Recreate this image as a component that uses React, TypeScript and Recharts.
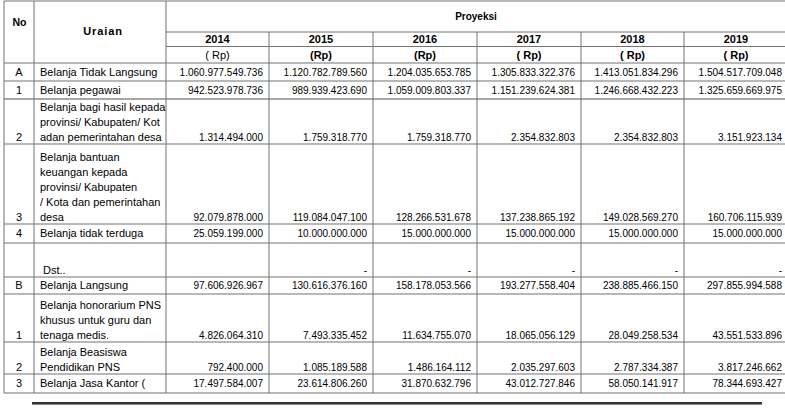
import React from 'react';
import { Surface, Layer, Text, Rectangle } from 'recharts';

const years = ['2014', '2015', '2016', '2017', '2018', '2019'];
const unitLabels = ['( Rp)', '(Rp)', '(Rp)', '( Rp)', '( Rp)', '( Rp)'];
const unitBold = [false, true, true, true, true, true];

const rowNos = ['A', '1', '2', '3', '4', '', 'B', '1', '2', '3'];
const rowLabels: string[][] = [
  ['Belanja Tidak Langsung'],
  ['Belanja pegawai'],
  ['Belanja bagi hasil kepada', 'provinsi/ Kabupaten/ Kot', 'adan pemerintahan desa'],
  ['Belanja bantuan', 'keuangan kepada', 'provinsi/ Kabupaten', '/ Kota dan pemerintahan', 'desa'],
  ['Belanja tidak terduga'],
  ['Dst..'],
  ['Belanja Langsung'],
  ['Belanja honorarium PNS', 'khusus untuk guru dan', 'tenaga medis.'],
  ['Belanja Beasiswa', 'Pendidikan PNS'],
  ['Belanja Jasa Kantor ('],
];

// null = empty cell, 0 = "-"
const v2014 = [1060977549736, 942523978736, 1314494000, 92079878000, 25059199000, null, 97606926967, 4826064310, 792400000, 17497584007];
const v2015 = [1120782789560, 989939423690, 1759318770, 119084047100, 10000000000, 0, 130616376160, 7493335452, 1085189588, 23614806260];
const v2016 = [1204035653785, 1059009803337, 1759318770, 128266531678, 15000000000, 0, 158178053566, 11634755070, 1486164112, 31870632796];
const v2017 = [1305833322376, 1151239624381, 2354832803, 137238865192, 15000000000, 0, 193277558404, 18065056129, 2035297603, 43012727846];
const v2018 = [1413051834296, 1246668432223, 2354832803, 149028569270, 15000000000, 0, 238885466150, 28049258534, 2787334387, 58050141917];
const v2019 = [1504517709048, 1325659669975, 3151923134, 160706115939, 15000000000, 0, 297855994588, 43551533896, 3817246662, 78344693427];
const seriesByYear = [v2014, v2015, v2016, v2017, v2018, v2019];

const W = 785;
const H = 409;
const FONT = '"Liberation Sans", Arial, Helvetica, sans-serif';
const colX = [4, 34, 166, 269, 373, 477, 581, 684, 788];
const rowBottoms = [81, 99, 144, 224, 243, 277, 294, 342, 374, 393];
const headerBottom = 63;
const gridColor = '#737373';

function fmt(v: number | null): string {
  if (v === null) return '';
  if (v === 0) return '-';
  const s = String(Math.round(v));
  let out = '';
  for (let i = 0; i < s.length; i++) {
    const fromEnd = s.length - i;
    out += s[i];
    if (fromEnd > 1 && (fromEnd - 1) % 3 === 0) out += '.';
  }
  return out;
}

function HLine({ y, x1, x2, color = gridColor, w = 1 }: any) {
  return <Rectangle x={x1} y={y - w / 2} width={x2 - x1} height={w} fill={color} stroke="none" />;
}
function VLine({ x, y1, y2, color = gridColor, w = 1 }: any) {
  return <Rectangle x={x - w / 2} y={y1} width={w} height={y2 - y1} fill={color} stroke="none" />;
}

export default function App() {
  const lineH = 15;
  const rowTops = [headerBottom, ...rowBottoms.slice(0, -1)];
  return (
    <div style={{ position: 'absolute', left: 0, top: 0, width: W, height: H, background: '#fff', overflow: 'hidden' }}>
      <Surface width={W} height={H} viewBox={{ x: 0, y: 0, width: W, height: H }}>
        <Layer>
          <HLine y={1} x1={colX[0]} x2={W} />
          <HLine y={32} x1={colX[2]} x2={W} />
          <HLine y={46.5} x1={colX[2]} x2={W} />
          <HLine y={headerBottom} x1={colX[0]} x2={W} />
          {rowBottoms.map((b, i) => (
            i === 1
              ? <HLine key={`hb${i}`} y={b} x1={colX[0]} x2={W} color="#a8a8a8" w={2} />
              : <HLine key={`hb${i}`} y={b} x1={colX[0]} x2={W} />
          ))}
          {colX.slice(0, 3).map((x, i) => (
            <VLine key={`v${i}`} x={x} y1={1} y2={rowBottoms[rowBottoms.length - 1]} />
          ))}
          {colX.slice(3).map((x, i) => (
            <VLine key={`vy${i}`} x={x} y1={32} y2={rowBottoms[rowBottoms.length - 1]} />
          ))}
          <Rectangle x={32} y={402} width={730} height={2} fill="#333" />
          <Rectangle x={32} y={404} width={730} height={1} fill="#8a8a8a" />
        </Layer>
        <Layer>
          <Text x={19.5} y={22} textAnchor="middle" verticalAnchor="middle" fontFamily={FONT} fontSize={10.5} fontWeight="bold" fill="#000">No</Text>
          <Text x={103} y={31} textAnchor="middle" verticalAnchor="middle" fontFamily={FONT} fontSize={11} fontWeight="bold" letterSpacing={0.9} fill="#000">Uraian</Text>
          <Text x={476} y={16} textAnchor="middle" verticalAnchor="middle" fontFamily={FONT} fontSize={10} fontWeight="bold" fill="#000">Proyeksi</Text>
          {years.map((yr, i) => (
            <Text key={`yr${i}`} x={(colX[i + 2] + colX[i + 3]) / 2} y={39} textAnchor="middle" verticalAnchor="middle" fontFamily={FONT} fontSize={11} fontWeight="bold" fill="#000">{yr}</Text>
          ))}
          {unitLabels.map((u, i) => (
            <Text key={`u${i}`} x={(colX[i + 2] + colX[i + 3]) / 2} y={55} textAnchor="middle" verticalAnchor="middle" fontFamily={FONT} fontSize={11} fontWeight={unitBold[i] ? 'bold' : 'normal'} fill="#000">{u}</Text>
          ))}
        </Layer>
        <Layer>
          {rowLabels.map((lines, r) => {
            const bottom = rowBottoms[r];
            const single = lines.length === 1 && bottom - rowTops[r] < 25;
            const lastY = single ? (rowTops[r] + bottom) / 2 : bottom - 7;
            const isDst = rowNos[r] === '';
            const lx = isDst ? 43 : 40;
            return (
              <g key={`row${r}`}>
                <Text x={19} y={lastY} textAnchor="middle" verticalAnchor="middle" fontFamily={FONT} fontSize={11} fill="#000">{rowNos[r]}</Text>
                {lines.map((ln, j) => (
                  <Text key={`l${j}`} x={lx} y={lastY - (lines.length - 1 - j) * lineH} textAnchor="start" verticalAnchor="middle" fontFamily={FONT} fontSize={11} fill="#000">{ln}</Text>
                ))}
                {seriesByYear.map((vals, c) => (
                  <Text key={`n${c}`} x={colX[c + 3] - 6} y={lastY} textAnchor="end" verticalAnchor="middle" fontFamily={FONT} fontSize={10} fill="#000">{fmt(vals[r])}</Text>
                ))}
              </g>
            );
          })}
        </Layer>
      </Surface>
    </div>
  );
}
